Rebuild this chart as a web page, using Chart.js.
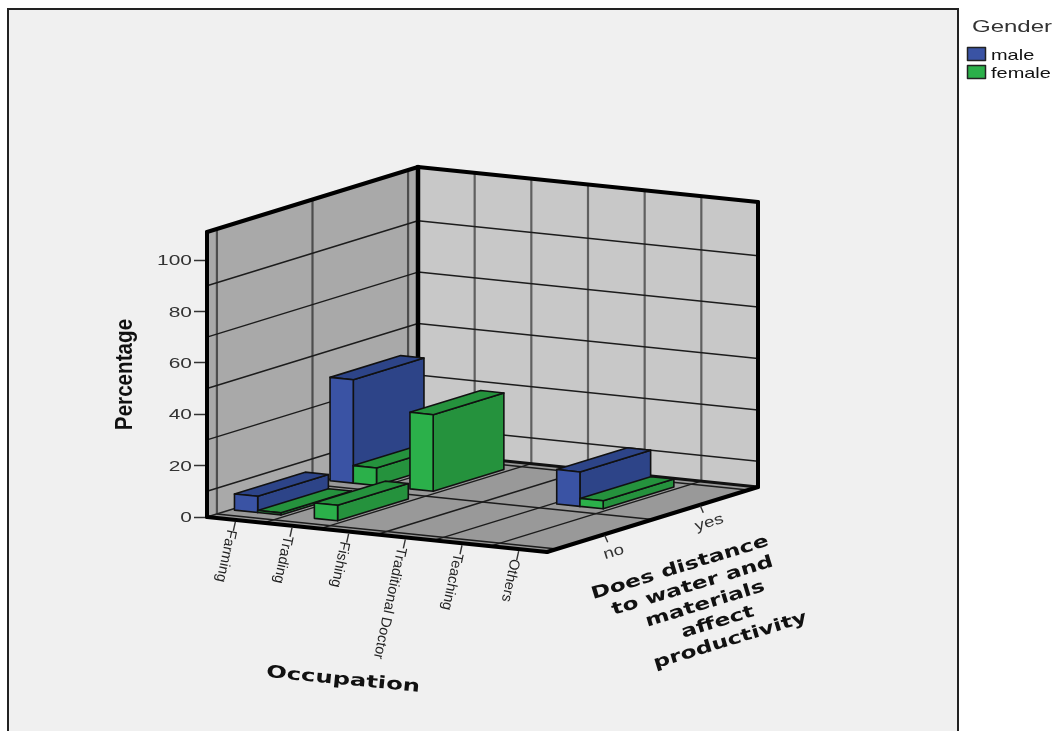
<!DOCTYPE html>
<html>
<head>
<meta charset="utf-8">
<title>Occupation by distance to water and materials</title>
<style>
  html, body { margin: 0; padding: 0; background: #fff; }
  canvas { display: block; }
</style>
<script src="https://cdn.jsdelivr.net/npm/chart.js@4/dist/chart.umd.min.js"></script>
</head>
<body>
<canvas id="chart" width="1056" height="731"></canvas>
<script>
// =========================
// DATA
// =========================
const occupations = ["Farming", "Trading", "Fishing", "Traditional Doctor", "Teaching", "Others"];
const distanceLevels = ["no", "yes"];
const genders = ["male", "female"];

const maleNo = [6.5, null, null, null, null, null];
const femaleNo = [1, 6.2, null, null, null, null];
const maleYes = [40.4, null, null, null, 13.6, null];
const femaleYes = [7, 30, null, null, 3.3, null];

const percentTop = 110.9;
const wallGridValues = [10, 30, 50, 70, 90];
const distanceTitleLines = ["Does distance", "to water and", "materials", "affect", "productivity"];

// =========================
// COLOURS AND PROJECTION
// =========================
const faceColors = {
  male: { front: "#3a53a4", side: "#2d4488" },
  female: { front: "#2bb04a", side: "#25923d" },
};
const LEFT_WALL = "#a9a9a9";
const BACK_WALL = "#c8c8c8";
const FLOOR = "#999999";
const PANEL = "#f0f0f0";

// the occupation axis runs downhill, the distance axis goes back and up
const SLOPE = 35 / 340;
const DEPTH_X = 211;
const DEPTH_Y = -65;
// rows on the distance axis leave a small strip at each end
const ROW_START = 0.047;
const ROW_SIZE = 0.453;
const BAR_DEPTH = 0.335;

function project(chart, px, py, depth) {
  const left = chart.scales.x.left;
  return [px + depth * DEPTH_X, py + (px - left) * SLOPE + depth * DEPTH_Y];
}

function polygon(ctx, points, fill, stroke, lineWidth) {
  ctx.beginPath();
  points.forEach((p, i) => (i ? ctx.lineTo(p[0], p[1]) : ctx.moveTo(p[0], p[1])));
  ctx.closePath();
  if (fill) {
    ctx.fillStyle = fill;
    ctx.fill();
  }
  if (stroke) {
    ctx.strokeStyle = stroke;
    ctx.lineWidth = lineWidth;
    ctx.stroke();
  }
}

function line(ctx, a, b, color, width) {
  ctx.beginPath();
  ctx.moveTo(a[0], a[1]);
  ctx.lineTo(b[0], b[1]);
  ctx.strokeStyle = color;
  ctx.lineWidth = width;
  ctx.stroke();
}

function label(ctx, text, x, y, angle, font, stretch, color, align) {
  ctx.save();
  ctx.translate(x, y);
  ctx.rotate((angle * Math.PI) / 180);
  ctx.scale(stretch, 1);
  ctx.font = font;
  ctx.fillStyle = color;
  ctx.textAlign = align;
  ctx.textBaseline = "middle";
  ctx.fillText(text, 0, 0);
  ctx.restore();
}

// =========================
// WALLS AND FLOOR
// =========================
function drawRoom(chart) {
  const { ctx } = chart;
  const { x: xs, y: ys } = chart.scales;
  const P = (px, py, d) => project(chart, px, py, d);
  const bottom = ys.getPixelForValue(0);
  const top = ys.getPixelForValue(percentTop);

  polygon(ctx, [P(xs.left, bottom, 0), P(xs.left, top, 0), P(xs.left, top, 1), P(xs.left, bottom, 1)], LEFT_WALL);
  polygon(ctx, [P(xs.left, bottom, 1), P(xs.left, top, 1), P(xs.right, top, 1), P(xs.right, bottom, 1)], BACK_WALL);
  polygon(ctx, [P(xs.left, bottom, 0), P(xs.right, bottom, 0), P(xs.right, bottom, 1), P(xs.left, bottom, 1)], FLOOR);

  // vertical divisions on the walls, lines across the floor
  const rowEdges = [ROW_START, ROW_START + ROW_SIZE, ROW_START + 2 * ROW_SIZE];
  rowEdges.forEach((d) => {
    line(ctx, P(xs.left, top, d), P(xs.left, bottom, d), "#4d4d4d", 2.2);
    line(ctx, P(xs.left, bottom, d), P(xs.right, bottom, d), "#1c1c1c", 1.4);
  });
  const cellWidth = xs.width / occupations.length;
  for (let i = 1; i < occupations.length; i++) {
    const px = xs.left + i * cellWidth;
    line(ctx, P(px, top, 1), P(px, bottom, 1), "#5f5f5f", 2.2);
    line(ctx, P(px, bottom, 0), P(px, bottom, 1), "#1c1c1c", 1.4);
  }

  wallGridValues.forEach((v) => {
    const py = ys.getPixelForValue(v);
    line(ctx, P(xs.left, py, 0), P(xs.left, py, 1), "#1c1c1c", 1.5);
    line(ctx, P(xs.left, py, 1), P(xs.right, py, 1), "#1c1c1c", 1.5);
  });

  // heavy outline of the box
  ctx.lineCap = "round";
  line(ctx, P(xs.left, bottom, 0), P(xs.left, bottom, 1), "#222", 1.5);
  line(ctx, P(xs.left, bottom, 1), P(xs.right, bottom, 1), "#111", 2.8);
  line(ctx, P(xs.left, top, 0), P(xs.left, bottom, 0), "#000", 4);
  line(ctx, P(xs.left, top, 0), P(xs.left, top, 1), "#000", 4);
  line(ctx, P(xs.left, top, 1), P(xs.right, top, 1), "#000", 4);
  line(ctx, P(xs.left, top, 1), P(xs.left, bottom, 1), "#000", 4.5);
  line(ctx, P(xs.right, top, 1), P(xs.right, bottom, 1), "#000", 4);
  line(ctx, P(xs.left, bottom, 0), P(xs.right, bottom, 0), "#000", 4);
  line(ctx, P(xs.right, bottom, 0), P(xs.right, bottom, 1), "#000", 4);
  ctx.lineCap = "butt";
}

// =========================
// BARS
// =========================
function drawBars(chart) {
  const { ctx } = chart;
  const boxes = [];

  chart.data.datasets.forEach((dataset, di) => {
    chart.getDatasetMeta(di).data.forEach((bar, i) => {
      if (dataset.data[i] == null) return;
      boxes.push({ bar, colors: faceColors[dataset.stack], row: dataset.row });
    });
  });

  // paint back row first, then left to right
  boxes.sort((a, b) => b.row - a.row || a.bar.x - b.bar.x);

  boxes.forEach(({ bar, colors, row }) => {
    const x0 = bar.x - bar.width / 2;
    const x1 = bar.x + bar.width / 2;
    const d0 = ROW_START + (row + 0.5) * ROW_SIZE - BAR_DEPTH / 2;
    const d1 = d0 + BAR_DEPTH;
    const P = (px, py, d) => project(chart, px, py, d);

    ctx.lineJoin = "round";
    polygon(ctx, [P(x1, bar.base, d0), P(x1, bar.y, d0), P(x1, bar.y, d1), P(x1, bar.base, d1)], colors.side, "#111", 1.6);
    polygon(ctx, [P(x0, bar.y, d0), P(x1, bar.y, d0), P(x1, bar.y, d1), P(x0, bar.y, d1)], colors.side, "#111", 1.6);
    polygon(ctx, [P(x0, bar.base, d0), P(x1, bar.base, d0), P(x1, bar.y, d0), P(x0, bar.y, d0)], colors.front, "#111", 1.6);
  });
}

// =========================
// AXIS TEXT AND LEGEND
// =========================
function drawAxisText(chart) {
  const { ctx } = chart;
  const { x: xs, y: ys } = chart.scales;
  const bottom = ys.getPixelForValue(0);
  const SANS = '"Liberation Sans"';
  const WIDE = '"DejaVu Sans"';

  // percentage tick labels come from the scale, only stretched wider here
  ys.ticks.forEach((tick, i) => {
    label(ctx, String(tick.value), 192, ys.getPixelForTick(i) + 1, 0, `15.5px ${SANS}`, 1.35, "#333", "right");
  });

  label(ctx, "Percentage", 125, (ys.top + ys.bottom) / 2, -90, `bold 24px ${SANS}`, 0.86, "#111", "center");

  occupations.forEach((name, i) => {
    const p = project(chart, xs.getPixelForValue(i), bottom, 0);
    line(ctx, [p[0], p[1] + 2], [p[0] - 2, p[1] + 11], "#333", 1.4);
    label(ctx, name, p[0] - 4, p[1] + 10, 102, `14.5px ${SANS}`, 1, "#222", "left");
  });

  distanceLevels.forEach((name, i) => {
    const d = ROW_START + (i + 0.5) * ROW_SIZE;
    const p = project(chart, xs.right, bottom, d);
    line(ctx, [p[0], p[1] + 1], [p[0] + 3, p[1] + 8], "#333", 1.4);
    label(ctx, name, p[0] + 9, p[1] + 18, -17, `15px ${SANS}`, 1.25, "#333", "center");
  });

  label(ctx, "Occupation", 343, 680, 5.6, `bold 17px ${WIDE}`, 1.43, "#111", "center");

  distanceTitleLines.forEach((text, i) => {
    label(ctx, text, 680 + i * 12.6, 568 + i * 18.2, -17, `bold 17px ${WIDE}`, 1.37, "#111", "center");
  });
}

function drawLegend(chart) {
  const { ctx } = chart;
  const rows = [
    { name: genders[0], color: faceColors.male.front, top: 47 },
    { name: genders[1], color: faceColors.female.front, top: 65 },
  ];

  label(ctx, "Gender", 972, 28, 0, '16px "Liberation Sans"', 1.5, "#333", "left");
  rows.forEach((row) => {
    ctx.fillStyle = row.color;
    ctx.fillRect(967.5, row.top + 0.5, 18, 13);
    ctx.strokeStyle = "#222";
    ctx.lineWidth = 1.5;
    ctx.strokeRect(967.5, row.top + 0.5, 18, 13);
    label(ctx, row.name, 991, row.top + 9, 0, '15px "Liberation Sans"', 1.33, "#111", "left");
  });
}

// flat bars are replaced, the element geometry from the bar controller is kept
const box3d = {
  id: "box3d",
  beforeDraw(chart) {
    const { ctx, width, height } = chart;
    ctx.fillStyle = "#fff";
    ctx.fillRect(0, 0, width, height);
    ctx.fillStyle = PANEL;
    ctx.fillRect(8, 9, 950, height);
    ctx.strokeStyle = "#222";
    ctx.lineWidth = 2;
    ctx.strokeRect(8, 9, 950, height + 10);
  },
  beforeDatasetsDraw(chart) {
    drawRoom(chart);
    drawBars(chart);
    drawAxisText(chart);
    drawLegend(chart);
    return false;
  },
};

// =========================
// CHART
// =========================
new Chart(document.getElementById("chart"), {
  type: "bar",
  plugins: [box3d],
  data: {
    labels: occupations,
    datasets: [
      { label: "male, no", stack: genders[0], row: 0, data: maleNo },
      { label: "female, no", stack: genders[1], row: 0, data: femaleNo },
      { label: "male, yes", stack: genders[0], row: 1, data: maleYes },
      { label: "female, yes", stack: genders[1], row: 1, data: femaleYes },
    ],
  },
  options: {
    responsive: false,
    animation: false,
    categoryPercentage: 0.82,
    barPercentage: 1,
    layout: { padding: { top: 232, bottom: 214, left: 0, right: 509 } },
    plugins: { legend: { display: false }, tooltip: { enabled: false } },
    scales: {
      x: { display: false },
      y: {
        stacked: false,
        min: 0,
        max: percentTop,
        afterFit: (scale) => {
          scale.width = 207;
        },
        border: { display: false },
        grid: { drawOnChartArea: false, tickLength: 13, tickColor: "#333", tickWidth: 1.5 },
        ticks: {
          stepSize: 20,
          includeBounds: false,
          display: false,
        },
      },
    },
  },
});
</script>
</body>
</html>
